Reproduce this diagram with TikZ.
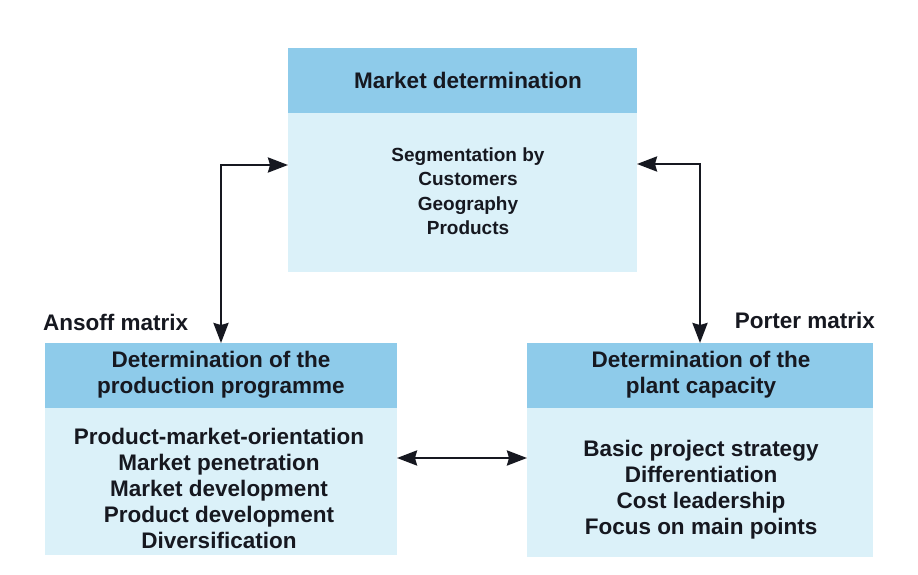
\documentclass[tikz,border=0pt]{standalone}
\usepackage{fontspec}
\setmainfont{Liberation Sans}
\usetikzlibrary{arrows.meta}
\definecolor{hdr}{RGB}{142,203,234}
\definecolor{bdy}{RGB}{219,241,249}
\definecolor{ink}{RGB}{22,24,32}
\begin{document}
\begin{tikzpicture}[x=1pt,y=-1pt,
  hbox/.style={fill=hdr, draw=none, inner sep=0pt, outer sep=0pt, anchor=north west},
  bbox/.style={fill=bdy, draw=none, inner sep=0pt, outer sep=0pt, anchor=north west},
  txt/.style={text=ink, font=\bfseries\fontsize{22.5}{26}\selectfont, align=center, inner sep=0pt},
  stxt/.style={text=ink, font=\bfseries\fontsize{19}{24.5}\selectfont, align=center, inner sep=0pt},
  arr/.style={{Stealth[length=20pt,width=15pt,inset=2pt]}-{Stealth[length=20pt,width=15pt,inset=2pt]}, line width=2.5pt, draw=ink}]
\useasboundingbox[fill=white] (0,0) rectangle (918,575);

% Market determination box
\node[bbox, minimum width=349pt, minimum height=224pt] (mkt) at (288,48) {};
\node[hbox, minimum width=349pt, minimum height=65pt] (mkth) at (288,48) {};
\node[txt] (mktt) at (468,80) {Market determination};
\node[stxt] (mktb) at (468,191) {Segmentation by\\Customers\\Geography\\Products};

% Production programme box
\node[bbox, minimum width=352pt, minimum height=212pt] (ppg) at (45,343) {};
\node[hbox, minimum width=352pt, minimum height=65pt] (ppgh) at (45,343) {};
\node[txt] (ppgt) at (221,375) {Determination of the\\production programme};
\node[txt] (ppgb) at (219,488) {Product-market-orientation\\Market penetration\\Market development\\Product development\\Diversification};

% Plant capacity box
\node[bbox, minimum width=346pt, minimum height=214pt] (cap) at (527,343) {};
\node[hbox, minimum width=346pt, minimum height=65pt] (caph) at (527,343) {};
\node[txt] (capt) at (701,375) {Determination of the\\plant capacity};
\node[txt] (capb) at (701,490) {Basic project strategy\\Differentiation\\Cost leadership\\Focus on main points};

% labels
\node[txt, anchor=west] (ansoff) at (43,322) {Ansoff matrix};
\node[txt, anchor=east] (porter) at (875,320) {Porter matrix};

% connectors
\coordinate (lk) at (221,165);
\coordinate (rk) at (702,164);
\coordinate (hm) at (462,458);
\draw[arr] (mkt.west |- lk) -| (ppg.north);
\draw[arr] (mkt.east |- rk) -| (cap.north);
\draw[arr] (ppg.east |- hm) -- (cap.west |- hm);
\end{tikzpicture}
\end{document}
